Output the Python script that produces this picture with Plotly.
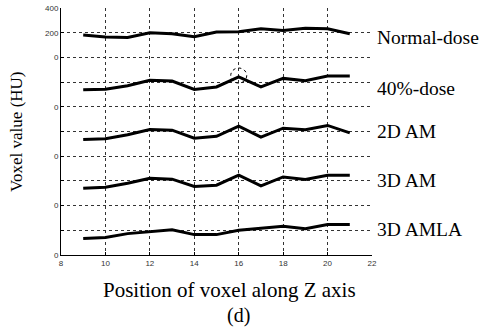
import plotly.graph_objects as go

positions = [9, 10, 11, 12, 13, 14, 15, 16, 17, 18, 19, 20, 21]
normal_dose = [181, 165, 162, 200, 192, 168, 205, 208, 232, 218, 236, 232, 192]
dose_40 = [138, 143, 171, 214, 208, 141, 161, 243, 162, 230, 211, 249, 249]
am_2d = [135, 141, 173, 216, 211, 146, 161, 243, 154, 227, 214, 249, 189]
am_3d = [141, 149, 181, 222, 214, 155, 165, 246, 160, 232, 211, 246, 246]
amla_3d = [133, 141, 173, 186, 205, 165, 165, 200, 213, 232, 213, 246, 246]

series_names = ["Normal-dose", "40%-dose", "2D AM", "3D AM", "3D AMLA"]
series_values = [normal_dose, dose_40, am_2d, am_3d, amla_3d]
offsets = [1600, 1200, 800, 400, 0]
label_y = [1760, 1350, 1000, 605, 205]

y_tickvals = [0, 200, 400, 600, 800, 1000, 1200, 1400, 1600, 1800, 2000]
y_ticktext = ["0", "", "0", "", "0", "", "0", "", "0", "200", "400"]
x_tickvals = [8, 10, 12, 14, 16, 18, 20, 22]

fig = go.Figure()
for name, vals, off in zip(series_names, series_values, offsets):
    fig.add_trace(go.Scatter(x=positions, y=[v + off for v in vals], mode="lines",
                             line=dict(color="black", width=3), name=name,
                             showlegend=False))

serif = "Liberation Serif, Times New Roman, serif"
ann = []
for name, ly in zip(series_names, label_y):
    ann.append(dict(x=22, xref="x", xshift=3, y=ly, yref="y", text=name, showarrow=False,
                    xanchor="left", yanchor="middle", font=dict(family=serif, size=19.5, color="black")))
ann.append(dict(x=-0.143, xref="paper", y=0.5, yref="paper", text="Voxel value (HU)", textangle=-90,
                showarrow=False, xanchor="center", yanchor="middle",
                font=dict(family=serif, size=17, color="black")))
ann.append(dict(x=0.542, xref="paper", y=-0.142, yref="paper", text="Position of voxel along Z axis",
                showarrow=False, xanchor="center", yanchor="middle",
                font=dict(family=serif, size=21, color="black")))
ann.append(dict(x=0.57, xref="paper", y=-0.245, yref="paper", text="(d)",
                showarrow=False, xanchor="center", yanchor="middle",
                font=dict(family=serif, size=20, color="black")))

fig.update_layout(
    width=488, height=327,
    margin=dict(l=61, r=116, t=8, b=72),
    paper_bgcolor="white", plot_bgcolor="white",
    annotations=ann,
    shapes=[dict(type="circle", xref="x", yref="y", x0=15.64, x1=16.36, y0=1392, y1=1514,
                 line=dict(color="black", width=1, dash="dot"))],
    xaxis=dict(range=[8, 22], tickvals=x_tickvals, showgrid=True, gridcolor="#333",
               griddash="dot", gridwidth=1, showline=True, linecolor="black", linewidth=1,
               ticks="inside", ticklen=3, tickcolor="black", zeroline=False, automargin=False,
               tickfont=dict(family="Liberation Sans, Arial", size=8, color="#333")),
    yaxis=dict(range=[0, 2000], tickvals=y_tickvals, ticktext=y_ticktext, showgrid=True,
               gridcolor="#333", griddash="dot", gridwidth=1, showline=True, linecolor="black",
               linewidth=1, ticks="inside", ticklen=3, tickcolor="black", zeroline=False,
               automargin=False,
               tickfont=dict(family="Liberation Sans, Arial", size=8, color="#333")),
)

fig.write_html("out.html", config={"displayModeBar": False},
               post_script="document.body.style.margin='0';document.body.style.overflow='hidden';")
